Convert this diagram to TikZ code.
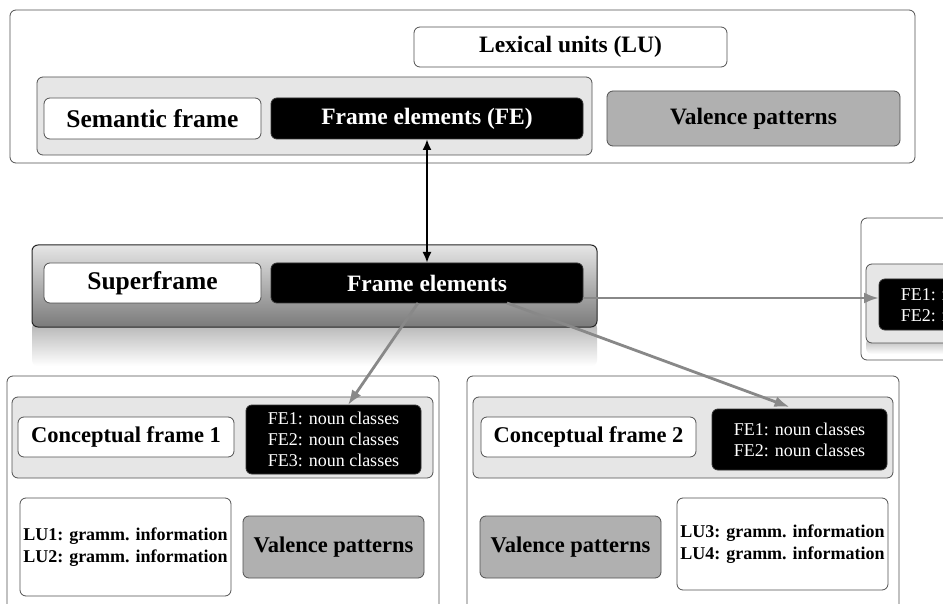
\documentclass[tikz,border=0pt]{standalone}
\usepackage{fontspec}
\setmainfont{Liberation Serif}
\usetikzlibrary{arrows.meta,calc}
\definecolor{bordc}{HTML}{505050}
\definecolor{contc}{HTML}{E6E6E6}
\definecolor{valc}{HTML}{B0B0B0}
\definecolor{arrc}{HTML}{888888}
\newcommand\bigfont{\bfseries\fontsize{23.5}{28}\selectfont}
\newcommand\wfont{\bfseries\fontsize{25.5}{30}\selectfont}
\newcommand\midfont{\bfseries\fontsize{22.5}{26}\selectfont}
\newcommand\lufont{\bfseries\fontsize{18}{22}\selectfont}
\newcommand\fefont{\fontsize{18}{21}\selectfont}
\newcommand\rbox[7]{\node[#2,minimum width={(#5)-(#3)},minimum height={(#6)-(#4)}] (#1) at ({((#3)+(#5))/2},{-((#4)+(#6))/2}) {#7};}
\tikzset{
  basebox/.style={rounded corners=6pt, draw=bordc, line width=0.8pt, inner sep=0pt, outer sep=0pt, align=center},
  outerbox/.style={basebox, fill=white},
  container/.style={basebox, fill=contc},
  wbox/.style={basebox, fill=white},
  bbox/.style={basebox, fill=black, draw=black!80, text=white},
  gbox/.style={basebox, fill=valc},
  shadebar/.style={basebox, draw=black!85, line width=1pt, top color=black!10, bottom color=black!52},
  reflect/.style={rounded corners=6pt, inner sep=0pt, outer sep=0pt, top color=black!30, bottom color=white, draw=none},
  grayarrow/.style={draw=arrc, line width=2.8pt, -{Latex[length=15pt,width=11pt]}},
  blackarrow/.style={draw=black, line width=2.5pt, {Latex[length=11pt,width=9pt]}-{Latex[length=11pt,width=9pt]}}
}
\begin{document}
\begin{tikzpicture}[x=1pt,y=1pt]
\useasboundingbox (0,0) rectangle (943,-604);
\clip (0,0) rectangle (943,-604);
\fill[white] (0,0) rectangle (943,-604);
% top block
\rbox{top}{outerbox}{10}{10}{915}{163}{}
\rbox{lu}{wbox,font=\bigfont}{414}{27}{727}{67}{Lexical units (LU)}
\rbox{semcont}{container}{37}{77}{592}{155}{}
\rbox{sem}{wbox,font=\wfont}{44}{98}{261}{139}{Semantic frame}
\rbox{fe}{bbox,font=\bigfont}{271}{98}{583}{139}{Frame elements (FE)}
\rbox{val}{gbox,font=\bigfont}{607}{91}{900}{146}{Valence patterns}
% superframe
\rbox{supref}{reflect}{32}{322}{597}{366}{}
\rbox{supcont}{shadebar}{32}{245}{597}{327}{}
\rbox{sup}{wbox,font=\wfont}{44}{263}{261}{303}{Superframe}
\rbox{sfe}{bbox,font=\bigfont}{271}{263}{583}{303}{Frame elements}
% right partial block
\rbox{rout}{outerbox}{861}{218}{1000}{360}{}
\rbox{rref}{reflect}{866}{338}{1000}{354}{}
\rbox{rcont}{container}{866}{264}{1000}{343}{}
\rbox{rfe}{bbox,font=\fefont}{879}{279}{1054}{330}{FE1: noun classes\\FE2: noun classes}
% bottom left block
\rbox{blout}{outerbox}{7}{376}{439}{625}{}
\rbox{blcont}{container}{12}{397}{433}{478}{}
\rbox{cf1}{wbox,font=\midfont}{18}{417}{234}{457}{Conceptual frame 1}
\rbox{fe1}{bbox,font=\fefont}{246}{405}{421}{474}{FE1: noun classes\\FE2: noun classes\\FE3: noun classes}
\rbox{lu12}{wbox,font=\lufont}{20}{498}{231}{596}{LU1: gramm. information\\LU2: gramm. information}
\rbox{val1}{gbox,font=\midfont}{243}{516}{424}{578}{Valence patterns}
% bottom right block
\rbox{brout}{outerbox}{467}{376}{899}{625}{}
\rbox{brcont}{container}{473}{397}{893}{478}{}
\rbox{cf2}{wbox,font=\midfont}{481}{417}{696}{457}{Conceptual frame 2}
\rbox{fe2}{bbox,font=\fefont}{712}{409}{887}{470}{FE1: noun classes\\FE2: noun classes}
\rbox{val2}{gbox,font=\midfont}{480}{516}{661}{578}{Valence patterns}
\rbox{lu34}{wbox,font=\lufont}{677}{498}{888}{590}{LU3: gramm. information\\LU4: gramm. information}
% connectors
\draw[blackarrow] (fe.south) -- (sfe.north);
\coordinate (hstart) at ($(sfe.east)+(0,-15)$);
\draw[grayarrow] (hstart) -- (hstart -| rfe.west);
\draw[grayarrow] ($(sfe.south)+(-9,0)$) -- ($(fe1.north)+(14.5,0)$);
\draw[grayarrow] ($(sfe.south)+(80,0)$) -- ($(fe2.north)+(-10,2)$);
\end{tikzpicture}
\end{document}
